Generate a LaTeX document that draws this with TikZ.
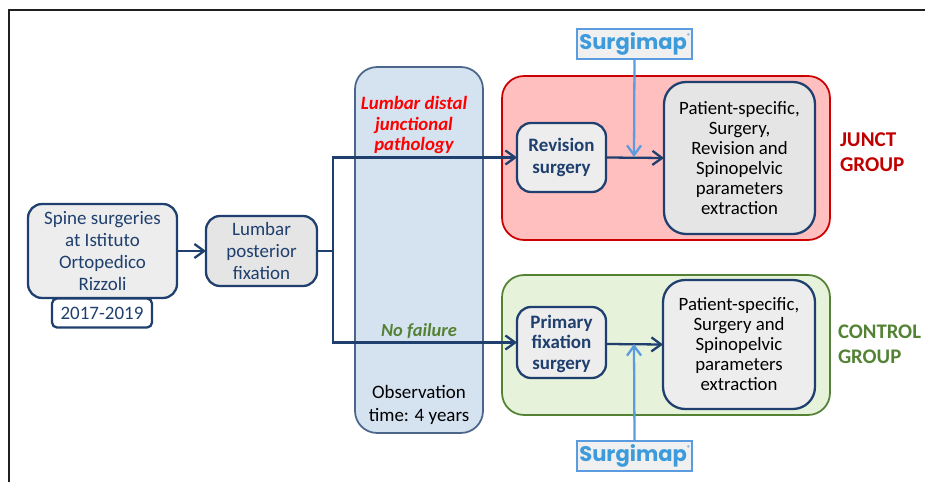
\documentclass[tikz,border=0pt]{standalone}
\usepackage{fontspec}
\setmainfont{Carlito}
\newfontfamily\mapfont{Poppins}
\usetikzlibrary{arrows.meta}
\definecolor{navy}{HTML}{1F3F6E}
\definecolor{skyline}{HTML}{5B9BE0}
\definecolor{skytext}{HTML}{3D9BDC}
\definecolor{junctred}{HTML}{C00000}
\definecolor{ctrlgreen}{HTML}{548235}
\definecolor{obsblue}{HTML}{D5E2F0}
\begin{document}
\begin{tikzpicture}[x=.02cm,y=-.02cm,
  every node/.style={inner sep=0pt,outer sep=0pt,align=center,font=\fontsize{10.8}{12.6}\selectfont},
  box/.style={draw=navy,line width=1.3pt,rounded corners=.28cm,text=navy},
  panel/.style={draw=#1,line width=1pt,rounded corners=.44cm},
  surgimap/.style={draw=skyline,line width=1.3pt,fill=gray!12,text=skytext,minimum width=2.3cm,minimum height=.6cm,font=\fontsize{12}{12}\mapfont\bfseries},
  link/.style={draw=navy,line width=1.3pt,-{Straight Barb[length=5.5pt,width=8pt]}},
  bluelink/.style={draw=skyline,line width=1.3pt,-{Straight Barb[length=5.5pt,width=8pt]}}]
\useasboundingbox (0,0) rectangle (925,482);
\draw[gray!25!black,line width=.8pt] (925,10) -- (9,10) -- (9,482);
% panels
\node[panel=navy!80,fill=obsblue,minimum width=2.56cm,minimum height=7.32cm] (obs) at (419,250) {};
\node[panel=red!80!black,fill=red!25,minimum width=6.56cm,minimum height=3.28cm] (junct) at (666,158) {};
\node[panel=ctrlgreen,fill=green!30!olive!15,minimum width=6.56cm,minimum height=2.8cm] (ctrl) at (666,345) {};
% boxes
\node[box,fill=gray!14,minimum width=2.98cm,minimum height=1.88cm] (spine) at (102.5,251) {Spine surgeries\\at Istituto\\Ortopedico\\Rizzoli};
\node[box,fill=white,rounded corners=.1cm,minimum width=2cm,minimum height=.58cm] (years) at (102,313) {2017-2019};
\node[box,fill=gray!20,minimum width=2.22cm,minimum height=1.4cm] (lumbar) at (261.5,251) {Lumbar\\posterior\\fixation};
\node[box,fill=gray!14,minimum width=1.78cm,minimum height=1.38cm,font=\fontsize{10.8}{12.6}\selectfont\bfseries] (revision) at (561.5,157.5) {\rule{0pt}{8pt}Revision\\surgery};
\node[box,fill=gray!14,minimum width=1.78cm,minimum height=1.42cm,font=\fontsize{10.8}{11.8}\selectfont\bfseries] (primary) at (561.5,342.5) {\rule{0pt}{9pt}Primary\\fixation\\surgery};
\node[box,fill=gray!20,text=black,minimum width=3.02cm,minimum height=3.04cm,rounded corners=.44cm,font=\fontsize{10.7}{11.4}\selectfont] (extractA) at (739.5,158) {Patient-specific,\\Surgery,\\Revision and\\Spinopelvic\\parameters\\extraction};
\node[box,fill=gray!14,text=black,minimum width=3.04cm,minimum height=2.58cm,rounded corners=.44cm,font=\fontsize{10.7}{11.4}\selectfont] (extractB) at (739,344.5) {Patient-specific,\\Surgery and\\Spinopelvic\\parameters\\extraction};
\node[surgimap] (mapA) at (634.5,44) {Surgimap\raisebox{.55em}{\fontsize{3}{3}\selectfont®}};
\node[surgimap] (mapB) at (634.5,456) {Surgimap\raisebox{.55em}{\fontsize{3}{3}\selectfont®}};
% connectors
\coordinate (trunk) at (333,251);
\coordinate (hitA) at (634,157);
\coordinate (hitB) at (634,344);
\draw[link] (spine.east) -- (lumbar.west);
\draw[draw=navy,line width=1.3pt] (lumbar.east) -- (trunk);
\draw[link] (trunk) |- (revision.west);
\draw[link] (trunk) |- (primary.west);
\draw[link] (revision.east) -- (extractA.west);
\draw[link] (primary.east |- hitB) -- (extractB.west);
\draw[bluelink] (mapA.south) -- (hitA);
\draw[bluelink] (mapB.north) -- (hitB);
% labels
\node[text=red,font=\fontsize{10.7}{11.6}\selectfont\bfseries\itshape] (failure) at (414,125) {Lumbar distal\\junctional\\pathology};
\node[text=ctrlgreen,font=\fontsize{10.5}{12}\selectfont\bfseries\itshape] (nofail) at (419,331) {No failure};
\node[text=black] (time) at (419,405) {Observation\\time: 4 years};
\node[text=junctred,align=left,anchor=west,font=\fontsize{12}{14.2}\selectfont\bfseries] (junctname) at (840,152) {JUNCT\\GROUP};
\node[text=ctrlgreen,align=left,anchor=west,font=\fontsize{11.8}{14.2}\selectfont\bfseries] (ctrlname) at (838,344) {CONTROL\\GROUP};
\end{tikzpicture}
\end{document}
